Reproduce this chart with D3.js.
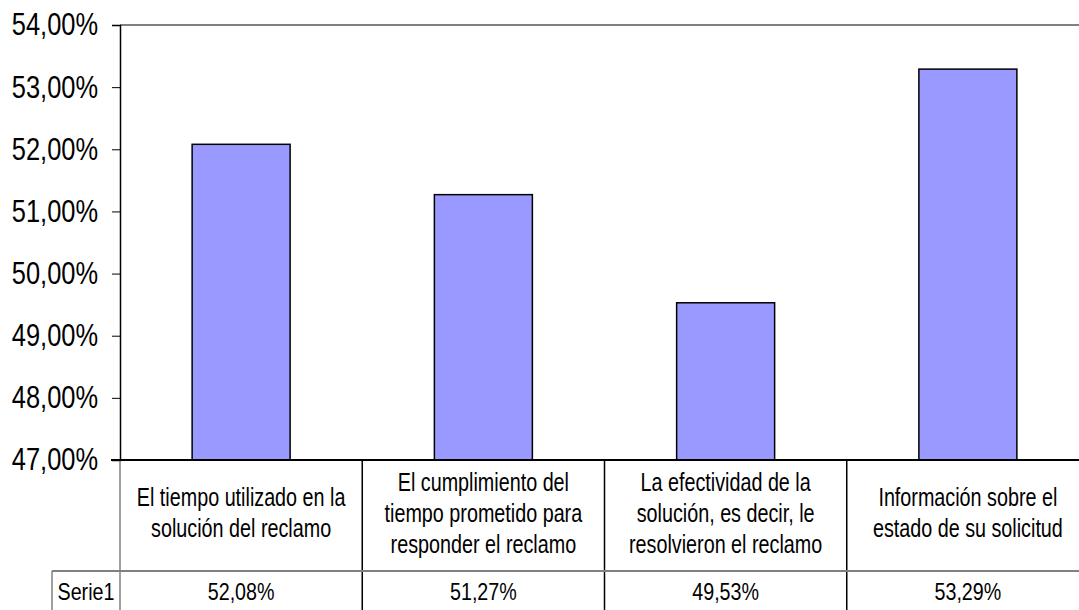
<!DOCTYPE html>
<html>
<head>
<meta charset="utf-8">
<script src="https://cdn.jsdelivr.net/npm/d3@7"></script>
<style>
  html, body { margin: 0; padding: 0; background: #fff; }
  svg { display: block; }
  text { font-family: "Liberation Sans", Arial, sans-serif; fill: #000; }
</style>
</head>
<body>
<svg id="chart" width="1079" height="610"></svg>
<script>
// Survey results: satisfaction with claim handling
const categories = [
  ["El tiempo utilizado en la", "solución del reclamo"],
  ["El cumplimiento del", "tiempo prometido para", "responder el reclamo"],
  ["La efectividad de la", "solución, es decir, le", "resolvieron el reclamo"],
  ["Información sobre el", "estado de su solicitud"]
];
const seriesName = "Serie1";
const seriesValues = [52.08, 51.27, 49.53, 53.29];
const yTicks = [47, 48, 49, 50, 51, 52, 53, 54];

const fmt = v => d3.format(".2f")(v).replace(".", ",") + "%";

// condensed lettering: squeeze each text horizontally
function narrow(factor) {
  return sel => sel.each(function() {
    const len = this.getComputedTextLength();
    d3.select(this)
      .attr("textLength", len * factor)
      .attr("lengthAdjust", "spacingAndGlyphs");
  });
}

const svg = d3.select("#chart");
const plotL = 120, plotR = 1089, plotT = 25, plotB = 460;
const tableRow = 571, tableBottom = 615, tableLeft = 52;

const x = d3.scaleBand()
  .domain(d3.range(categories.length))
  .range([plotL, plotR])
  .paddingInner(0)
  .paddingOuter(0);

const y = d3.scaleLinear().domain([47, 54]).range([plotB, plotT]);

// top border of plot area
svg.append("line")
  .attr("x1", plotL).attr("x2", 1079)
  .attr("y1", plotT).attr("y2", plotT)
  .attr("stroke", "#808080").attr("stroke-width", 2);

// bars
const barW = 98;
svg.append("g").selectAll("rect")
  .data(seriesValues)
  .join("rect")
  .attr("x", (d, i) => x(i) + x.bandwidth() / 2 - barW / 2)
  .attr("y", d => y(d))
  .attr("width", barW)
  .attr("height", d => y(47) - y(d))
  .attr("fill", "#9999FF")
  .attr("stroke", "#000")
  .attr("stroke-width", 1.5);

// y axis
const yAxis = d3.axisLeft(y)
  .tickValues(yTicks)
  .tickSize(8)
  .tickPadding(14)
  .tickFormat(fmt);
const gy = svg.append("g").attr("transform", `translate(${plotL},0)`).call(yAxis);
gy.select(".domain").attr("stroke", "#000").attr("stroke-width", 1.5);
gy.selectAll(".tick line").attr("stroke", "#000");
gy.selectAll(".tick text")
  .attr("font-size", 31)
  .attr("font-family", null)
  .attr("fill", "#000")
  .call(narrow(0.82));

// data table
const tbl = svg.append("g");
tbl.append("line")
  .attr("x1", plotL).attr("x2", plotL)
  .attr("y1", plotB).attr("y2", tableBottom)
  .attr("stroke", "#808080").attr("stroke-width", 1.5);
tbl.selectAll("line.div")
  .data(d3.range(1, categories.length))
  .join("line")
  .attr("class", "div")
  .attr("x1", i => x(i)).attr("x2", i => x(i))
  .attr("y1", plotB).attr("y2", tableBottom)
  .attr("stroke", "#000").attr("stroke-width", 1.5);
// row separator and series name cell
tbl.append("line")
  .attr("x1", tableLeft).attr("x2", 1079)
  .attr("y1", tableRow).attr("y2", tableRow)
  .attr("stroke", "#808080").attr("stroke-width", 2);
tbl.append("line")
  .attr("x1", tableLeft).attr("x2", tableLeft)
  .attr("y1", tableRow).attr("y2", tableBottom)
  .attr("stroke", "#808080").attr("stroke-width", 1.5);

// x axis baseline
svg.append("line")
  .attr("x1", plotL - 9).attr("x2", 1079)
  .attr("y1", plotB).attr("y2", plotB)
  .attr("stroke", "#000").attr("stroke-width", 2);

// category labels, one text element per line
const lineH = 31;
const midY = 513;
const catLines = categories.flatMap((lines, i) =>
  lines.map((ln, k) => ({ i, k, n: lines.length, ln })));
tbl.selectAll("text.cat")
  .data(catLines)
  .join("text")
  .attr("class", "cat")
  .attr("text-anchor", "middle")
  .attr("font-size", 25)
  .attr("x", d => x(d.i) + x.bandwidth() / 2)
  .attr("y", d => midY - (d.n - 1) * lineH / 2 + d.k * lineH)
  .attr("dy", "0.35em")
  .text(d => d.ln)
  .call(narrow(0.79));

// values row
tbl.selectAll("text.val")
  .data(seriesValues)
  .join("text")
  .attr("class", "val")
  .attr("text-anchor", "middle")
  .attr("font-size", 24)
  .attr("x", (d, i) => x(i) + x.bandwidth() / 2)
  .attr("y", 592)
  .attr("dy", "0.35em")
  .text(fmt)
  .call(narrow(0.82));

tbl.append("text")
  .attr("text-anchor", "middle")
  .attr("font-size", 24)
  .attr("x", (tableLeft + plotL) / 2)
  .attr("y", 592)
  .attr("dy", "0.35em")
  .text(seriesName)
  .call(narrow(0.82));
</script>
</body>
</html>
